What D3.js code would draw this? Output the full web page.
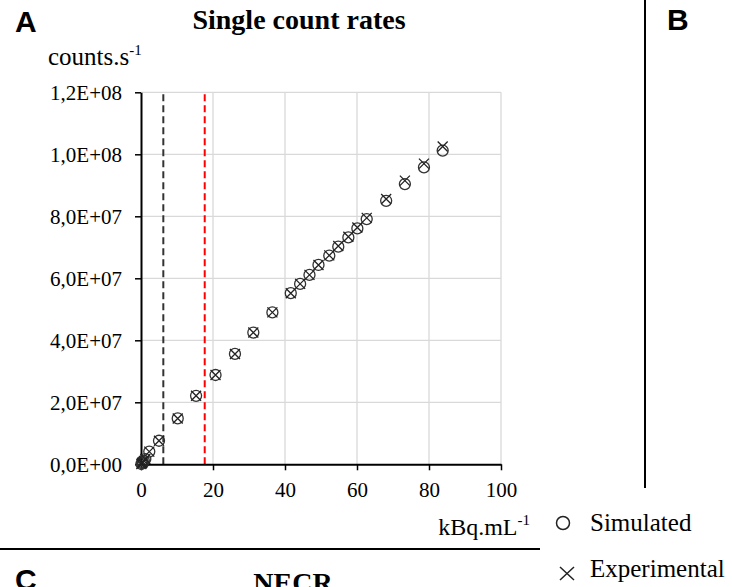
<!DOCTYPE html>
<html>
<head>
<meta charset="utf-8">
<script src="https://cdn.jsdelivr.net/npm/d3@7"></script>
<style>
  body { margin: 0; background: #fff; }
  svg { display: block; }
</style>
</head>
<body>
<div id="chart"></div>
<script>
// activity (kBq/mL) and single count rates
var activity = [0.1, 0.3, 0.5, 0.8, 1.2, 2.3, 5.0, 10.2, 15.3, 20.7, 26.1, 31.2, 36.5, 41.6,
    44.2, 46.8, 49.3, 52.3, 54.8, 57.6, 60.1, 62.7, 68.1, 73.3, 78.6, 83.8];
var simulated = [0.1e6, 0.4e6, 0.7e6, 1.1e6, 1.7e6, 4.1e6, 7.6e6, 14.8e6, 22.1e6, 28.8e6, 35.6e6,
    42.5e6, 49.0e6, 55.2e6, 58.2e6, 61.1e6, 64.3e6, 67.3e6, 70.2e6, 73.2e6, 76.1e6, 79.1e6,
    85.0e6, 90.4e6, 95.8e6, 101.2e6];
var experimental = [0.1e6, 0.4e6, 0.7e6, 1.1e6, 1.7e6, 4.1e6, 7.6e6, 14.8e6, 22.1e6, 28.8e6, 35.6e6,
    42.5e6, 49.0e6, 55.2e6, 58.2e6, 61.1e6, 64.3e6, 67.4e6, 70.4e6, 73.4e6, 76.4e6, 79.5e6,
    85.6e6, 91.5e6, 97.0e6, 102.5e6];

var xTicks = [0, 20, 40, 60, 80, 100];
var yTicks = [0, 2e7, 4e7, 6e7, 8e7, 1e8, 1.2e8];
var yTickLabels = ["0,0E+00", "2,0E+07", "4,0E+07", "6,0E+07", "8,0E+07", "1,0E+08", "1,2E+08"];
var refLines = [{value: 6.2, color: "#333333"}, {value: 17.7, color: "#ff0000"}];

var W = 732, H = 587;
var serif = "'Liberation Serif', 'Times New Roman', serif";
var sans = "'Liberation Sans', Arial, sans-serif";

var svg = d3.select("#chart").append("svg")
    .attr("width", W)
    .attr("height", H);

var x = d3.scaleLinear().domain([0, 100]).range([141, 501]);
var y = d3.scaleLinear().domain([0, 1.2e8]).range([464.3, 92.3]);

// gridlines
svg.append("g").selectAll("line.gx")
    .data(xTicks.slice(1))
    .enter().append("line")
        .attr("x1", d => x(d)).attr("x2", d => x(d))
        .attr("y1", y(0)).attr("y2", y(1.2e8))
        .attr("stroke", "#d9d9d9").attr("stroke-width", 1.3);
svg.append("g").selectAll("line.gy")
    .data(yTicks.slice(1))
    .enter().append("line")
        .attr("x1", x(0)).attr("x2", x(100))
        .attr("y1", d => y(d)).attr("y2", d => y(d))
        .attr("stroke", "#d9d9d9").attr("stroke-width", 1.3);

// reference dashed lines
svg.append("g").selectAll("line.ref")
    .data(refLines)
    .enter().append("line")
        .attr("x1", d => x(d.value)).attr("x2", d => x(d.value))
        .attr("y1", y(0)).attr("y2", y(1.2e8))
        .attr("stroke", d => d.color)
        .attr("stroke-width", 2)
        .attr("stroke-dasharray", "7,4");

// axes
var xAxis = svg.append("g")
    .attr("transform", "translate(0," + y(0) + ")")
    .call(d3.axisBottom(x).tickValues(xTicks).tickSize(6).tickPadding(12).tickSizeOuter(0));
var yAxis = svg.append("g")
    .attr("transform", "translate(" + x(0) + ",0)")
    .call(d3.axisLeft(y).tickValues(yTicks).tickSize(6).tickPadding(13).tickSizeOuter(0)
        .tickFormat((d, i) => yTickLabels[i]));

[xAxis, yAxis].forEach(function(a) {
    a.select(".domain").attr("stroke", "#000").attr("stroke-width", 2);
    a.selectAll(".tick line").attr("stroke", "#000").attr("stroke-width", 1.5);
    a.selectAll(".tick text")
        .attr("fill", "#000")
        .style("font-family", serif)
        .style("font-size", "21px");
});

// markers
var pts = activity.map((a, i) => ({x: a, sim: simulated[i], exp: experimental[i]}));

svg.append("g").selectAll("circle")
    .data(pts)
    .enter().append("circle")
        .attr("cx", d => x(d.x))
        .attr("cy", d => y(d.sim))
        .attr("r", 5.5)
        .attr("fill", "none")
        .attr("stroke", "#333")
        .attr("stroke-width", 1.3);

svg.append("g").selectAll("path")
    .data(pts)
    .enter().append("path")
        .attr("d", function(d) {
            var cx = x(d.x), cy = y(d.exp), s = 5;
            return "M" + (cx - s) + "," + (cy - s) + "L" + (cx + s) + "," + (cy + s) +
                   "M" + (cx - s) + "," + (cy + s) + "L" + (cx + s) + "," + (cy - s);
        })
        .attr("fill", "none")
        .attr("stroke", "#222")
        .attr("stroke-width", 1.3);

// titles
svg.append("text")
    .attr("x", 299).attr("y", 29)
    .attr("text-anchor", "middle")
    .style("font-family", serif).style("font-size", "28px").style("font-weight", "bold")
    .text("Single count rates");

var yl = svg.append("text")
    .attr("x", 48).attr("y", 65)
    .style("font-family", serif).style("font-size", "25px");
yl.append("tspan").text("counts.s");
yl.append("tspan").attr("dy", -10).style("font-size", "15px").text("-1");

var xl = svg.append("text")
    .attr("x", 530).attr("y", 535)
    .attr("text-anchor", "end")
    .style("font-family", serif).style("font-size", "24px");
xl.append("tspan").text("kBq.mL");
xl.append("tspan").attr("dy", -10).style("font-size", "15px").text("-1");

// panel letters
svg.append("text").attr("x", 15).attr("y", 32)
    .style("font-family", sans).style("font-size", "30px").style("font-weight", "bold")
    .text("A");
svg.append("text").attr("x", 667).attr("y", 30)
    .style("font-family", sans).style("font-size", "30px").style("font-weight", "bold")
    .text("B");
svg.append("text").attr("x", 15).attr("y", 590)
    .style("font-family", sans).style("font-size", "30px").style("font-weight", "bold")
    .text("C");
svg.append("text").attr("x", 293).attr("y", 592)
    .attr("text-anchor", "middle")
    .style("font-family", serif).style("font-size", "28px").style("font-weight", "bold")
    .text("NECR");

// panel separators
svg.append("line").attr("x1", 645).attr("x2", 645).attr("y1", 0).attr("y2", 488)
    .attr("stroke", "#000").attr("stroke-width", 2);
svg.append("line").attr("x1", 0).attr("x2", 540).attr("y1", 549).attr("y2", 549)
    .attr("stroke", "#000").attr("stroke-width", 2);

// legend
var legend = svg.append("g");
legend.append("circle")
    .attr("cx", 563).attr("cy", 523).attr("r", 6.5)
    .attr("fill", "none").attr("stroke", "#222").attr("stroke-width", 1.5);
legend.append("path")
    .attr("d", "M560,567L574,580M560,580L574,567")
    .attr("stroke", "#222").attr("stroke-width", 1.5);
legend.append("text").attr("x", 590).attr("y", 531)
    .style("font-family", serif).style("font-size", "25px")
    .text("Simulated");
legend.append("text").attr("x", 590).attr("y", 577)
    .style("font-family", serif).style("font-size", "25px")
    .text("Experimental");
</script>
</body>
</html>
